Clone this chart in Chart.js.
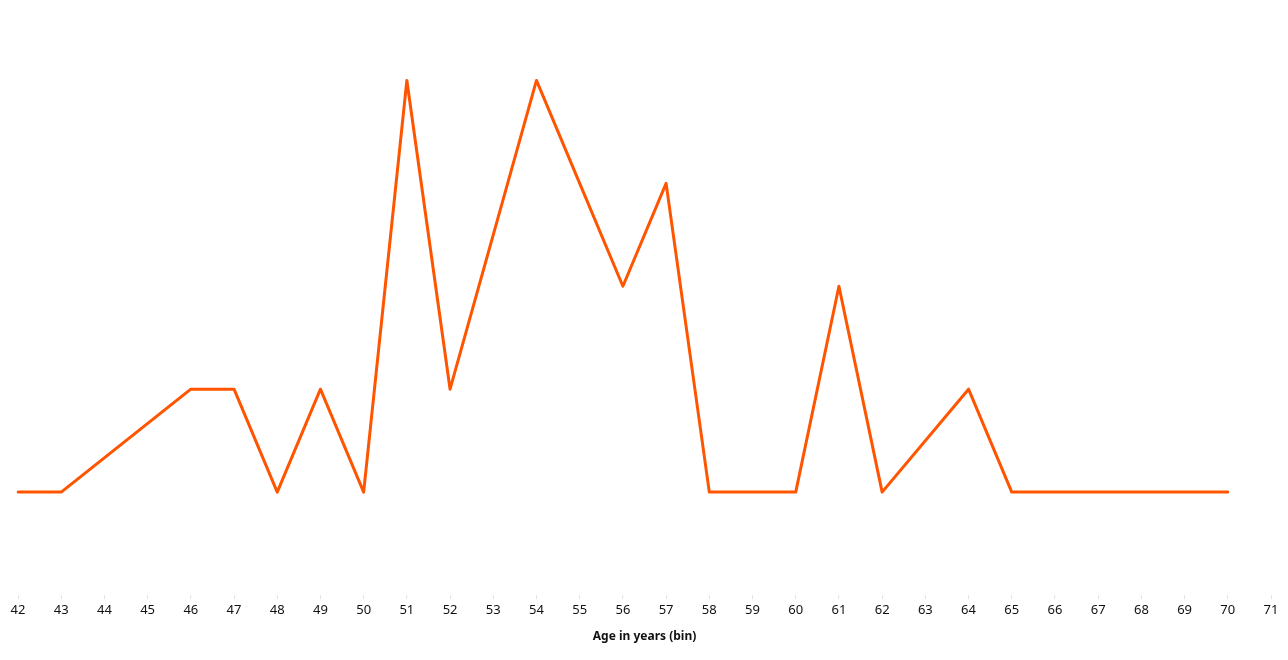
<!DOCTYPE html>
<html>
<head>
<meta charset="utf-8">
<script src="https://cdn.jsdelivr.net/npm/chart.js@4/dist/chart.umd.min.js"></script>
<style>
  html, body { margin: 0; padding: 0; background: #fff; }
  #wrap { width: 1288px; height: 660px; }
</style>
</head>
<body>
<div id="wrap"><canvas id="ageChart"></canvas></div>
<script>
// age bins (x axis) and counts per bin; null = bin with no records
const ageBins = [42, 43, 44, 45, 46, 47, 48, 49, 50, 51, 52, 53, 54, 55, 56,
                 57, 58, 59, 60, 61, 62, 63, 64, 65, 66, 67, 68, 69, 70, 71];
const counts = [1, 1, null, null, 2, 2, 1, 2, 1, 5, 2, null, 5, 4, 3,
                4, 1, 1, 1, 3, 1, null, 2, 1, 1, 1, 1, 1, 1, null];

const axisTitle = 'Age in years (bin)';
const lineColor = '#ff5500';

new Chart(document.getElementById('ageChart'), {
    type: 'line',
    data: {
        labels: ageBins,
        datasets: [{
            data: counts,
            borderColor: lineColor,
            borderWidth: 3,
            borderJoinStyle: 'round',
            borderCapStyle: 'round',
            pointRadius: 0,
            spanGaps: true,
            tension: 0
        }]
    },
    options: {
        responsive: true,
        maintainAspectRatio: false,
        animation: false,
        layout: {
            padding: { left: 18, right: 17, top: 29, bottom: 16 }
        },
        plugins: {
            legend: { display: false },
            tooltip: { enabled: false }
        },
        scales: {
            x: {
                offset: false,
                border: { display: false },
                grid: {
                    drawOnChartArea: false,
                    tickLength: 4,
                    color: '#e3e3e3'
                },
                ticks: {
                    color: '#111',
                    maxRotation: 0,
                    autoSkip: false,
                    padding: 3,
                    font: { family: 'Noto Sans', size: 13 }
                },
                title: {
                    display: true,
                    text: axisTitle,
                    color: '#111',
                    padding: { top: 9, bottom: 0 },
                    font: { family: 'Noto Sans', size: 12, weight: 'bold' }
                }
            },
            y: {
                display: false,
                min: 0,
                max: 5.5
            }
        }
    }
});
</script>
</body>
</html>
